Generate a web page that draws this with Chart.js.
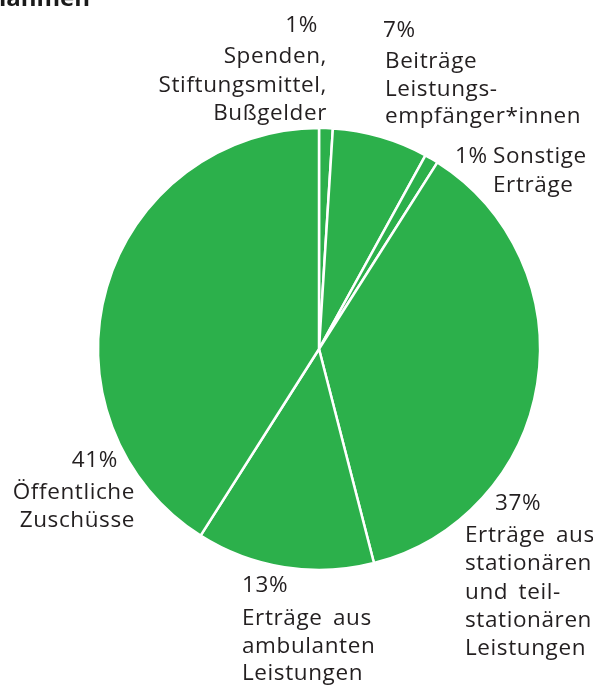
<!DOCTYPE html>
<html><head><meta charset="utf-8">
<script src="https://cdn.jsdelivr.net/npm/chart.js@4/dist/chart.umd.min.js"></script>
<style>html,body{margin:0;padding:0;background:#fff;}#wrap{position:relative;width:593px;height:686px;overflow:hidden;}</style>
</head><body><div id="wrap"><canvas id="c" width="593" height="686"></canvas></div>
<script>
const categories = ["Spenden, Stiftungsmittel, Bußgelder","Beiträge Leistungsempfänger*innen","Sonstige Erträge","Erträge aus stationären und teilstationären Leistungen","Erträge aus ambulanten Leistungen","Öffentliche Zuschüsse"];
const shares = [1, 7, 1, 37, 13, 41];
const percentLabels = ["1%","7%","1%","37%","13%","41%"];
const nameLines = [["Spenden,","Stiftungsmittel,","Bußgelder"],["Beiträge","Leistungs-","empfänger*innen"],["Sonstige","Erträge"],["Erträge aus","stationären","und teil-","stationären","Leistungen"],["Erträge aus","ambulanten","Leistungen"],["Öffentliche","Zuschüsse"]];
const title = "Einnahmen";

// layout of label blocks (text placement only)
const labelLayout = [
  {px:318, py:32, pAlign:'right', x:327, y:63, align:'right', lh:28.5},
  {px:383, py:37, pAlign:'left', x:385, y:68, align:'left', lh:27.7},
  {px:455, py:163, pAlign:'left', x:493, y:163, align:'left', lh:29},
  {px:495, py:510, pAlign:'left', x:465, y:542, align:'left', lh:28.3},
  {px:242, py:592, pAlign:'left', x:242, y:625, align:'left', lh:27.5},
  {px:118, py:467, pAlign:'right', x:135, y:499, align:'right', lh:28}
];
const FONT = '22.5px "Open Sans", sans-serif';
const labelsPlugin = {
  id:'labels',
  afterDraw(chart){
    const ctx = chart.ctx; ctx.save();
    ctx.fillStyle = '#231f20'; ctx.font = FONT; ctx.textBaseline='alphabetic';
    try { ctx.letterSpacing = '0.6px'; ctx.wordSpacing = '4px'; } catch(e) {}
    labelLayout.forEach((L,i)=>{
      ctx.textAlign = L.pAlign; ctx.fillText(percentLabels[i], L.px, L.py);
      ctx.textAlign = L.align;
      nameLines[i].forEach((t,j)=>ctx.fillText(t, L.x, L.y + j*L.lh));
    });
    try { ctx.letterSpacing = '0px'; ctx.wordSpacing = '0px'; } catch(e) {}
    ctx.font = 'bold 24px "Open Sans", sans-serif';
    ctx.textAlign='right'; ctx.fillStyle='#1a1a1a';
    ctx.fillText(title, 90, 6);
    ctx.restore();
  }
};
new Chart(document.getElementById('c'), {
  type:'pie',
  data:{labels:categories, datasets:[{data:shares, backgroundColor:'#2cb04b', borderColor:'#ffffff', borderWidth:2.5}]},
  options:{responsive:false, animation:false, radius:221,
    layout:{padding:{left:97, top:127, right:52, bottom:115}},
    plugins:{legend:{display:false}, tooltip:{enabled:false}}},
  plugins:[labelsPlugin]
});
</script></body></html>
